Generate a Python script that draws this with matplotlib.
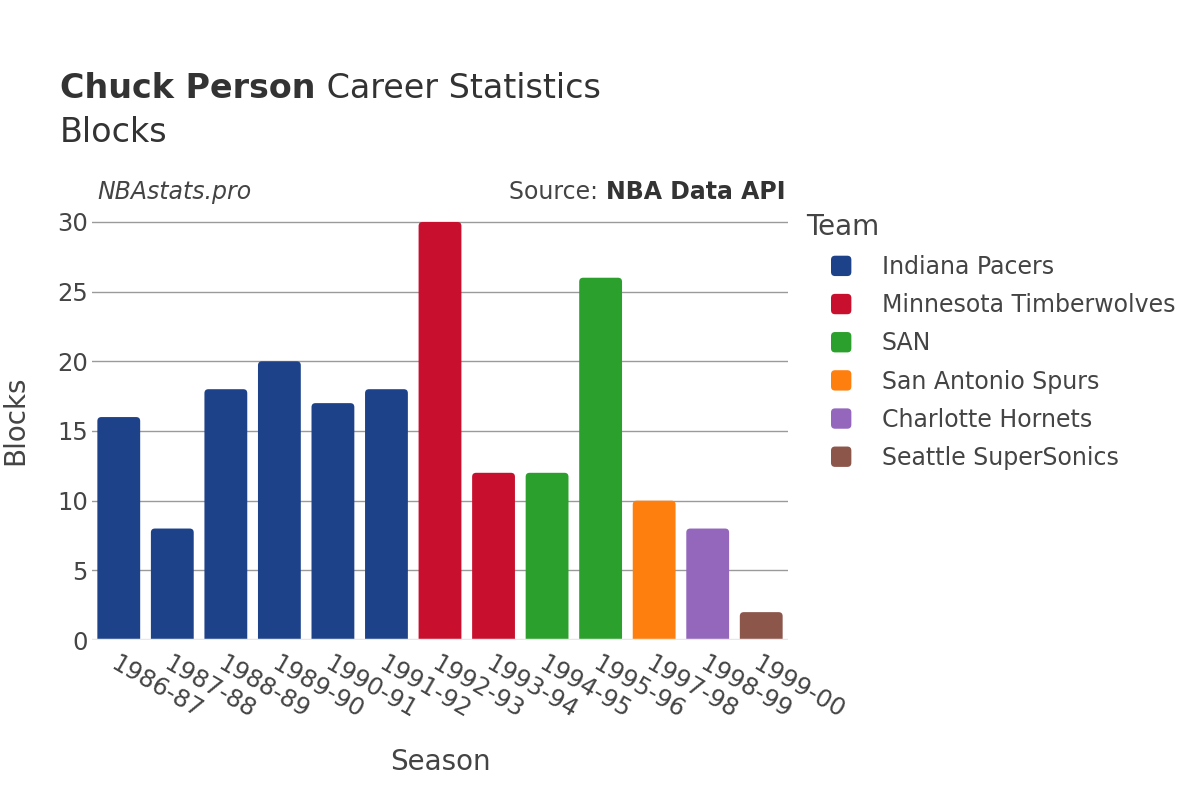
import matplotlib
matplotlib.use("Agg")
import matplotlib.pyplot as plt
from matplotlib.patches import FancyBboxPatch, Patch
from matplotlib.legend_handler import HandlerPatch

# data
seasons = ["1986-87", "1987-88", "1988-89", "1989-90", "1990-91", "1991-92",
           "1992-93", "1993-94", "1994-95", "1995-96", "1997-98", "1998-99", "1999-00"]
blocks = [16, 8, 18, 20, 17, 18, 30, 12, 12, 26, 10, 8, 2]
teams = ["Indiana Pacers", "Indiana Pacers", "Indiana Pacers", "Indiana Pacers",
         "Indiana Pacers", "Indiana Pacers", "Minnesota Timberwolves",
         "Minnesota Timberwolves", "SAN", "SAN", "San Antonio Spurs",
         "Charlotte Hornets", "Seattle SuperSonics"]
team_order = ["Indiana Pacers", "Minnesota Timberwolves", "SAN",
              "San Antonio Spurs", "Charlotte Hornets", "Seattle SuperSonics"]
team_colors = {"Indiana Pacers": "#1d428a",
               "Minnesota Timberwolves": "#c8102e",
               "SAN": "#2ca02c",
               "San Antonio Spurs": "#ff7f0e",
               "Charlotte Hornets": "#9467bd",
               "Seattle SuperSonics": "#8c564b"}

txt = "#444444"
plt.rcParams['font.family'] = ['DejaVu Sans']

fig = plt.figure(figsize=(12, 8), dpi=100)
ax = fig.add_axes([92/1200, 1 - 640/800, 696/1200, 440/800])

x = list(range(len(seasons)))
bars = ax.bar(x, blocks, width=0.8, color=[team_colors[t] for t in teams])
ax.set_xlim(-0.5, len(seasons) - 0.5)
ax.set_ylim(0, 30 * 1.0526)

# swap bars for rounded ones, bottom hidden below the axis
px_x = 696 / len(seasons)
px_y = 440 / (30 * 1.0526)
r = 4 / px_x
for b in bars:
    b.set_visible(False)
    ext = 0.6
    p = FancyBboxPatch((b.get_x(), -ext), b.get_width(), b.get_height() + ext,
                       boxstyle="round,pad=0,rounding_size=%f" % r,
                       mutation_aspect=px_x / px_y,
                       facecolor=b.get_facecolor(), edgecolor="none", zorder=2)
    ax.add_patch(p)

ax.set_yticks([0, 5, 10, 15, 20, 25, 30])
ax.yaxis.grid(True, color="#9a9a9a", linewidth=1)
ax.set_axisbelow(True)
ax.axhline(0, color="#e8e8e8", linewidth=2.5, zorder=3)
for s in ax.spines.values():
    s.set_visible(False)
ax.tick_params(axis="both", length=0, labelsize=17.5, colors=txt)
ax.tick_params(axis="y", pad=3)
ax.set_xticks(x)
ax.set_xticklabels(seasons, rotation=-30, ha="left", va="top",
                   rotation_mode="anchor")
ax.tick_params(axis="x", pad=8)

ax.set_xlabel("Season", fontsize=20, color=txt)
ax.set_ylabel("Blocks", fontsize=20, color=txt)
ax.xaxis.set_label_coords(0.5, -0.245)
ax.yaxis.set_label_coords(-0.09, 0.5)

# title
t1 = fig.text(60/1200, 1 - 88/800, "Chuck Person", fontsize=24, fontweight="bold",
              color="#333333", va="center")
fig.canvas.draw()
bb = t1.get_window_extent()
fig.text(bb.x1 / 1200, 1 - 88/800, " Career Statistics", fontsize=24,
         color="#333333", va="center")
fig.text(60/1200, 1 - 132/800, "Blocks", fontsize=24, color="#333333", va="center")

# annotations
fig.text(97/1200, 1 - 192/800, "NBAstats.pro", fontsize=17, style="italic",
         color=txt, va="center")
t2 = fig.text(785/1200, 1 - 192/800, "NBA Data API", fontsize=17, fontweight="bold",
              color="#333333", va="center", ha="right")
fig.canvas.draw()
bb2 = t2.get_window_extent()
fig.text(bb2.x0 / 1200, 1 - 192/800, "Source: ", fontsize=17, color=txt,
         va="center", ha="right")


# legend with rounded square markers
def rounded_patch(legend, orig_handle, xdescent, ydescent, width, height, fontsize):
    s = min(width, height)
    return FancyBboxPatch((-xdescent, -ydescent + (height - s) / 2), s, s,
                          boxstyle="round,pad=0,rounding_size=%f" % (s * 0.2))


fig.text(806/1200, 1 - 227/800, "Team", fontsize=20, color=txt, va="center")
handles = [Patch(facecolor=team_colors[t], edgecolor="none", label=t) for t in team_order]
leg = fig.legend(handles=handles, loc="upper left",
                 bbox_to_anchor=(831/1200, 1 - 255/800), frameon=False,
                 fontsize=17, handlelength=0.95, handleheight=0.95,
                 handletextpad=1.2, labelspacing=0.6, borderaxespad=0,
                 borderpad=0,
                 handler_map={Patch: HandlerPatch(patch_func=rounded_patch)})
for t in leg.get_texts():
    t.set_color(txt)

fig.savefig("out.png", dpi=100)
